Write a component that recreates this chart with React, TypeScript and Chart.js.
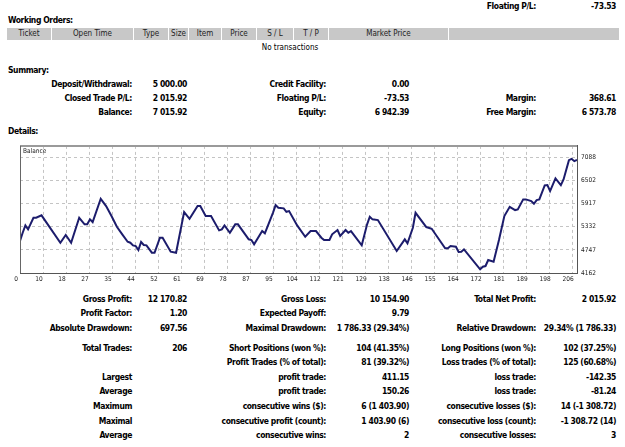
import React, { useEffect, useRef } from "react";
import { Chart, registerables } from "chart.js";

Chart.register(...registerables);

const FONT = '"DejaVu Sans Condensed", "DejaVu Sans", sans-serif';

// Balance curve: trade number and account balance after that trade
const tradeNo = [
  0, 1, 2, 3, 5, 6, 8, 15, 17, 19, 22, 24, 25, 26, 27, 30, 32, 34, 36, 38,
  40, 41, 42, 43, 44, 45, 46, 47, 49, 50, 52, 53, 56, 58, 61, 63, 66, 67, 69, 71,
  74, 75, 76, 78, 80, 81, 85, 86, 87, 90, 91, 94, 95, 96, 98, 99, 100, 103, 106, 108,
  110, 112, 113, 115, 116, 118, 119, 121, 122, 123, 127, 129, 130, 131, 133, 140, 143, 144, 146, 147,
  151, 153, 158, 159, 160, 162, 163, 164, 165, 171, 172, 173, 174, 176, 178, 180, 182, 184, 185, 187,
  188, 190, 191, 192, 193, 195, 196, 197, 199, 201, 202, 204, 205, 206, 207,
];
const balance = [
  4970, 5178, 5364, 5264, 5556, 5556, 5617, 4926, 5120, 4926, 5556, 5390, 5390, 5516, 5448, 6035, 5851, 5599, 5329, 5138,
  4951, 4926, 4860, 4843, 4742, 4944, 4868, 4860, 4674, 4674, 5052, 5052, 4699, 4674, 5700, 5531, 5851, 5851, 5599, 5599,
  5238, 5264, 5364, 5178, 5390, 5390, 5012, 4994, 4886, 5221, 5163, 5682, 5876, 5808, 5793, 5707, 5725, 5364, 5077, 5221,
  5221, 5052, 4994, 4994, 5138, 5246, 5095, 5246, 5178, 5221, 4860, 5390, 5581, 5516, 5498, 4717, 5012, 4911, 5304, 5682,
  5322, 5279, 4785, 4785, 4843, 4825, 4691, 4699, 4759, 4255, 4321, 4338, 4490, 4447, 4994, 5599, 5833, 5750, 5768, 6020,
  6020, 5977, 5909, 6002, 6020, 6373, 6380, 6229, 6549, 6380, 6524, 7011, 7044, 6985, 7015.92,
];

// Axis labels
const xTickLabels = [
  "0", "10", "18", "27", "35", "44", "52", "61", "69", "78", "87", "95", "104",
  "112", "121", "129", "138", "146", "155", "164", "172", "181", "189", "198", "206",
];
const yTickValues = [4162, 4747, 5332, 5917, 6502, 7088];
const X_MAX = 207;
const X_STEP = 8.55;
const Y_MIN = 4162;
const Y_MAX = 7370;

// Working orders table
const orderColumns = ["Ticket", "Open Time", "Type", "Size", "Item", "Price", "S / L", "T / P", "Market Price", ""];
const orderColWidths = [45, 82, 35, 20, 33, 35, 37, 35, 120, 171];

// Summary block
const summaryRows = [
  ["Deposit/Withdrawal:", "5 000.00", "Credit Facility:", "0.00", "", ""],
  ["Closed Trade P/L:", "2 015.92", "Floating P/L:", "-73.53", "Margin:", "368.61"],
  ["Balance:", "7 015.92", "Equity:", "6 942.39", "Free Margin:", "6 573.78"],
];

// Trade statistics block
const detailRows = [
  ["Gross Profit:", "12 170.82", "Gross Loss:", "10 154.90", "Total Net Profit:", "2 015.92"],
  ["Profit Factor:", "1.20", "Expected Payoff:", "9.79", "", ""],
  ["Absolute Drawdown:", "697.56", "Maximal Drawdown:", "1 786.33 (29.34%)", "Relative Drawdown:", "29.34% (1 786.33)"],
  ["Total Trades:", "206", "Short Positions (won %):", "104 (41.35%)", "Long Positions (won %):", "102 (37.25%)"],
  ["", "", "Profit Trades (% of total):", "81 (39.32%)", "Loss trades (% of total):", "125 (60.68%)"],
  ["Largest", "", "profit trade:", "411.15", "loss trade:", "-142.35"],
  ["Average", "", "profit trade:", "150.26", "loss trade:", "-81.24"],
  ["Maximum", "", "consecutive wins ($):", "6 (1 403.90)", "consecutive losses ($):", "14 (-1 308.72)"],
  ["Maximal", "", "consecutive profit (count):", "1 403.90 (6)", "consecutive loss (count):", "-1 308.72 (14)"],
  ["Average", "", "consecutive wins:", "2", "consecutive losses:", "3"],
];

const PAGE_W = 625;
const COL_RIGHT = [132, 187, 326, 409, 536, 616];
const SUMMARY_Y = [83.5, 97.5, 112];
const DETAIL_Y = [298.5, 313, 328, 347.5, 362, 376.5, 391, 405.5, 420.5, 435];

const textBase: React.CSSProperties = {
  position: "absolute",
  height: 12,
  lineHeight: "12px",
  whiteSpace: "nowrap",
  fontFamily: FONT,
  fontSize: 8.5,
  letterSpacing: "-0.4px",
  color: "#000",
};

function Text({ x, y, children, align = "right", bold = true }: any) {
  const style: React.CSSProperties = { ...textBase, top: y - 6, fontWeight: bold ? 700 : 400 };
  if (align === "right") style.right = PAGE_W - x;
  else style.left = x;
  return <div style={style}>{children}</div>;
}

function StatRow({ cells, y }: { cells: string[]; y: number }) {
  return (
    <>
      {cells.map((c, i) =>
        c ? (
          <Text key={i} x={COL_RIGHT[i]} y={y}>
            {c}
          </Text>
        ) : null
      )}
    </>
  );
}

// Chart frame: top and left edges of the plot box
const framePlugin = {
  id: "frame",
  afterDraw(chart: any) {
    const { ctx, chartArea: a } = chart;
    ctx.save();
    ctx.strokeStyle = "#9a9a9a";
    ctx.lineWidth = 2;
    ctx.beginPath();
    ctx.moveTo(a.left, a.top);
    ctx.lineTo(a.right, a.top);
    ctx.stroke();
    ctx.strokeStyle = "#666";
    ctx.lineWidth = 1;
    ctx.beginPath();
    ctx.moveTo(a.left + 0.5, a.top);
    ctx.lineTo(a.left + 0.5, a.bottom);
    ctx.stroke();
    ctx.restore();
  },
};

function BalanceChart() {
  const ref = useRef<HTMLCanvasElement>(null);
  useEffect(() => {
    const chart = new Chart(ref.current as HTMLCanvasElement, {
      type: "line",
      data: {
        datasets: [
          {
            data: tradeNo.map((t, i) => ({ x: t, y: balance[i] })),
            borderColor: "#1c1c6c",
            borderWidth: 2,
            pointRadius: 0,
            tension: 0,
            fill: false,
          },
        ],
      },
      options: {
        animation: false,
        responsive: false,
        events: [],
        layout: { padding: { left: 20, right: 8, top: 7, bottom: 3 } },
        plugins: { legend: { display: false }, tooltip: { enabled: false } },
        scales: {
          x: {
            type: "linear",
            min: 0,
            max: X_MAX,
            afterBuildTicks: (s: any) => {
              s.ticks = xTickLabels.map((_, k) => ({ value: k * X_STEP }));
            },
            afterFit: (s: any) => {
              s.height = 14;
            },
            grid: { color: "#c4c4c4", lineWidth: 1, drawTicks: false },
            border: { color: "#555", width: 1, dash: [3, 3] },
            ticks: {
              autoSkip: false,
              maxRotation: 0,
              padding: 2,
              labelOffset: -4,
              color: "#222",
              font: { family: FONT, size: 6.5 },
              callback: (_v: any, i: number) => xTickLabels[i],
            },
          },
          y: {
            type: "linear",
            position: "right",
            min: Y_MIN,
            max: Y_MAX,
            afterBuildTicks: (s: any) => {
              s.ticks = yTickValues.map((v) => ({ value: v }));
            },
            afterFit: (s: any) => {
              s.width = 40;
            },
            grid: { color: "#c4c4c4", lineWidth: 1, drawTicks: false },
            border: { color: "#555", width: 1, dash: [3, 3] },
            ticks: {
              padding: 4,
              color: "#222",
              font: { family: FONT, size: 6.5 },
              callback: (v: any) => String(v),
            },
          },
        },
      },
      plugins: [framePlugin],
    } as any);
    return () => chart.destroy();
  }, []);
  return (
    <canvas
      ref={ref}
      width={625}
      height={152}
      style={{ position: "absolute", left: 0, top: 138, width: 625, height: 152 }}
    />
  );
}

export default function App() {
  let left = 7;
  return (
    <div style={{ position: "relative", width: PAGE_W, height: 447, overflow: "hidden", background: "#fff", fontFamily: FONT }}>
      <style>{"body{margin:0}"}</style>

      <Text x={536} y={6}>Floating P/L:</Text>
      <Text x={616} y={6}>-73.53</Text>

      <Text x={8} y={20} align="left">Working Orders:</Text>
      {orderColumns.map((c, i) => {
        const w = orderColWidths[i];
        const el = (
          <div
            key={i}
            style={{
              position: "absolute",
              left,
              top: 28,
              width: w - 1,
              height: 11.5,
              background: "#c8c8c8",
              textAlign: "center",
              lineHeight: "11.5px",
              fontSize: 8,
              color: "#222",
              whiteSpace: "nowrap",
            }}
          >
            {c}
          </div>
        );
        left += w;
        return el;
      })}
      <div style={{ ...textBase, top: 42, left: 190, width: 200, textAlign: "center", fontWeight: 400, letterSpacing: "normal", fontSize: 8 }}>
        No transactions
      </div>

      <Text x={8} y={69.5} align="left">Summary:</Text>
      {summaryRows.map((r, i) => (
        <StatRow key={i} cells={r} y={SUMMARY_Y[i]} />
      ))}

      <Text x={8} y={131} align="left">Details:</Text>
      <BalanceChart />
      <div style={{ ...textBase, left: 23, top: 145, fontSize: 6.5, color: "#222", fontWeight: 400, letterSpacing: "normal" }}>Balance</div>

      {detailRows.map((r, i) => (
        <StatRow key={i} cells={r} y={DETAIL_Y[i]} />
      ))}
    </div>
  );
}
